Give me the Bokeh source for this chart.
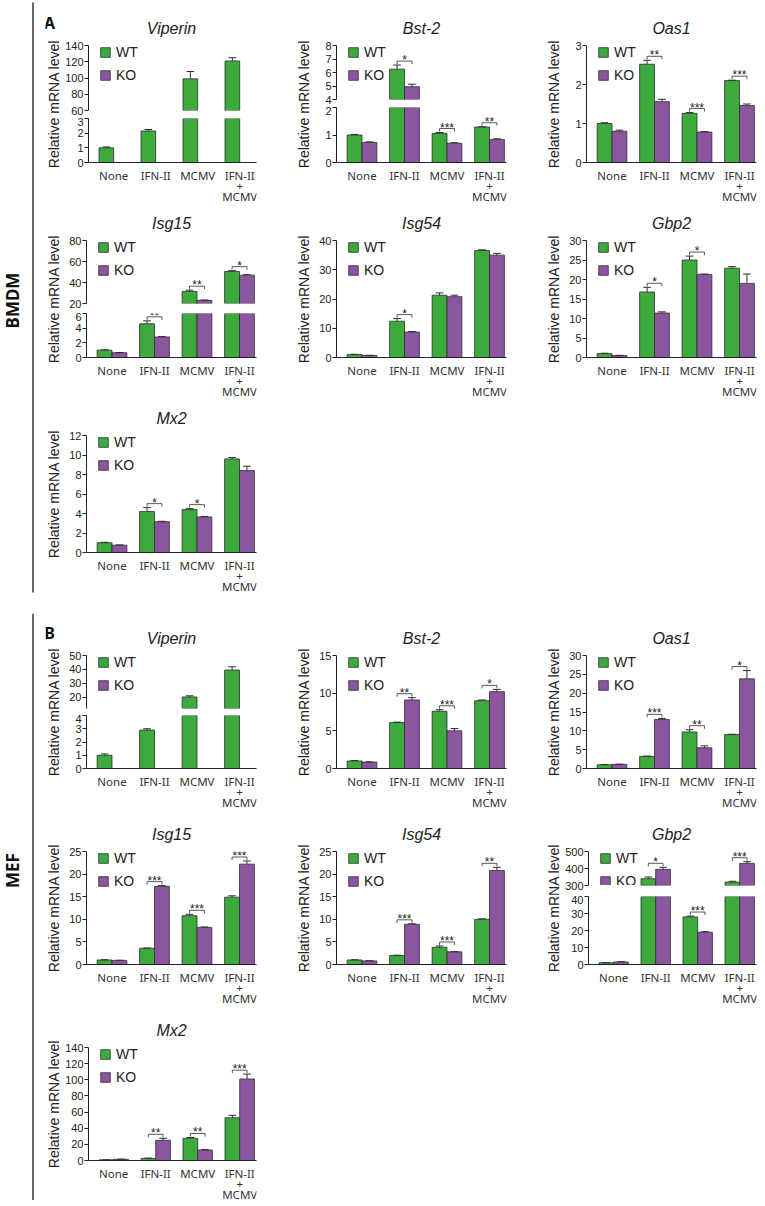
import math
from bokeh.plotting import figure
from bokeh.models import Range1d, FixedTicker, Legend, LegendItem, ColumnDataSource, Spacer
from bokeh.layouts import row, column
from bokeh.transform import dodge
from bokeh.core.properties import value
from bokeh.embed import file_html
from bokeh.resources import INLINE

NAN = float("nan")

# ---------------- data ----------------
conditions = ["None", "IFN-II", "MCMV", "IFN-II\n+\nMCMV"]
series_names = ["WT", "KO"]
cell_types = ["BMDM", "MEF"]
genes_A = ["Viperin", "Bst-2", "Oas1", "Isg15", "Isg54", "Gbp2", "Mx2"]
genes_B = ["Viperin", "Bst-2", "Oas1", "Isg15", "Isg54", "Gbp2", "Mx2"]

# BMDM
bmdm_viperin_wt = [1.0, 2.15, 99.0, 121.0]
bmdm_viperin_wt_err = [0.06, 0.1, 9.0, 4.0]
bmdm_viperin_ko = [NAN, NAN, NAN, NAN]
bmdm_viperin_ko_err = [NAN, NAN, NAN, NAN]
bmdm_viperin_sig = ["", "", "", ""]

bmdm_bst2_wt = [1.0, 6.25, 1.06, 1.29]
bmdm_bst2_wt_err = [0.02, 0.3, 0.03, 0.01]
bmdm_bst2_ko = [0.73, 4.95, 0.70, 0.84]
bmdm_bst2_ko_err = [0.02, 0.18, 0.02, 0.02]
bmdm_bst2_sig = ["", "*", "***", "**"]

bmdm_oas1_wt = [1.0, 2.52, 1.26, 2.10]
bmdm_oas1_wt_err = [0.02, 0.1, 0.02, 0.01]
bmdm_oas1_ko = [0.80, 1.56, 0.78, 1.46]
bmdm_oas1_ko_err = [0.03, 0.06, 0.01, 0.04]
bmdm_oas1_sig = ["", "**", "***", "***"]

bmdm_isg15_wt = [1.0, 4.6, 31.5, 50.5]
bmdm_isg15_wt_err = [0.05, 0.4, 1.2, 0.8]
bmdm_isg15_ko = [0.65, 2.8, 23.0, 47.0]
bmdm_isg15_ko_err = [0.03, 0.05, 0.3, 0.4]
bmdm_isg15_sig = ["", "**", "**", "*"]

bmdm_isg54_wt = [1.0, 12.4, 21.3, 36.6]
bmdm_isg54_wt_err = [0.1, 0.9, 0.8, 0.2]
bmdm_isg54_ko = [0.7, 8.7, 20.8, 35.0]
bmdm_isg54_ko_err = [0.05, 0.2, 0.5, 0.6]
bmdm_isg54_sig = ["", "*", "", ""]

bmdm_gbp2_wt = [1.0, 16.8, 25.0, 22.9]
bmdm_gbp2_wt_err = [0.1, 1.2, 1.0, 0.4]
bmdm_gbp2_ko = [0.5, 11.4, 21.3, 19.0]
bmdm_gbp2_ko_err = [0.05, 0.3, 0.1, 2.4]
bmdm_gbp2_sig = ["", "*", "*", ""]

bmdm_mx2_wt = [1.0, 4.2, 4.4, 9.6]
bmdm_mx2_wt_err = [0.05, 0.4, 0.1, 0.15]
bmdm_mx2_ko = [0.75, 3.15, 3.65, 8.4]
bmdm_mx2_ko_err = [0.03, 0.05, 0.05, 0.45]
bmdm_mx2_sig = ["", "*", "*", ""]

# MEF
mef_viperin_wt = [1.0, 2.9, 20.3, 39.6]
mef_viperin_wt_err = [0.1, 0.1, 0.8, 2.3]
mef_viperin_ko = [NAN, NAN, NAN, NAN]
mef_viperin_ko_err = [NAN, NAN, NAN, NAN]
mef_viperin_sig = ["", "", "", ""]

mef_bst2_wt = [1.0, 6.1, 7.6, 9.0]
mef_bst2_wt_err = [0.05, 0.05, 0.2, 0.1]
mef_bst2_ko = [0.85, 9.1, 5.0, 10.2]
mef_bst2_ko_err = [0.03, 0.3, 0.3, 0.3]
mef_bst2_sig = ["", "**", "***", "*"]

mef_oas1_wt = [1.0, 3.2, 9.7, 9.0]
mef_oas1_wt_err = [0.05, 0.1, 0.6, 0.1]
mef_oas1_ko = [1.1, 13.0, 5.5, 23.8]
mef_oas1_ko_err = [0.05, 0.3, 0.5, 2.2]
mef_oas1_sig = ["", "***", "**", "*"]

mef_isg15_wt = [1.0, 3.6, 10.8, 14.9]
mef_isg15_wt_err = [0.05, 0.05, 0.3, 0.3]
mef_isg15_ko = [0.9, 17.3, 8.2, 22.2]
mef_isg15_ko_err = [0.05, 0.15, 0.1, 0.7]
mef_isg15_sig = ["", "***", "***", "***"]

mef_isg54_wt = [1.0, 2.0, 3.8, 10.0]
mef_isg54_wt_err = [0.05, 0.05, 0.3, 0.1]
mef_isg54_ko = [0.8, 8.9, 2.8, 20.8]
mef_isg54_ko_err = [0.05, 0.1, 0.05, 0.7]
mef_isg54_sig = ["", "***", "***", "**"]

mef_gbp2_wt = [1.0, 340.0, 28.0, 320.0]
mef_gbp2_wt_err = [0.1, 10.0, 0.5, 5.0]
mef_gbp2_ko = [1.5, 395.0, 19.0, 430.0]
mef_gbp2_ko_err = [0.2, 12.0, 0.3, 10.0]
mef_gbp2_sig = ["", "*", "***", "***"]

mef_mx2_wt = [0.8, 2.5, 27.5, 53.0]
mef_mx2_wt_err = [0.1, 0.5, 1.0, 3.0]
mef_mx2_ko = [1.5, 25.0, 13.0, 101.0]
mef_mx2_ko_err = [0.2, 2.5, 0.5, 6.0]
mef_mx2_sig = ["", "**", "**", "***"]

# axis specs: (start, end, ticks, frame px height)
axes_A = {
    "Viperin": dict(top=(60, 140, [60, 80, 100, 120, 140], 65), bottom=(0, 3, [0, 1, 2, 3], 44)),
    "Bst-2": dict(top=(4, 8, [4, 5, 6, 7, 8], 54), bottom=(0, 2, [0, 1, 2], 55)),
    "Oas1": dict(single=(0, 3, [0, 1, 2, 3])),
    "Isg15": dict(top=(20, 80, [20, 40, 60, 80], 63), bottom=(0, 6, [0, 2, 4, 6], 44)),
    "Isg54": dict(single=(0, 40, [0, 10, 20, 30, 40])),
    "Gbp2": dict(single=(0, 30, [0, 5, 10, 15, 20, 25, 30])),
    "Mx2": dict(single=(0, 12, [0, 2, 4, 6, 8, 10, 12])),
}
axes_B = {
    "Viperin": dict(top=(12, 50, [20, 30, 40, 50], 53), bottom=(0, 4, [0, 1, 2, 3, 4], 53)),
    "Bst-2": dict(single=(0, 15, [0, 5, 10, 15])),
    "Oas1": dict(single=(0, 30, [0, 5, 10, 15, 20, 25, 30])),
    "Isg15": dict(single=(0, 25, [0, 5, 10, 15, 20, 25])),
    "Isg54": dict(single=(0, 25, [0, 5, 10, 15, 20, 25])),
    "Gbp2": dict(top=(300, 500, [300, 400, 500], 34), bottom=(0, 40, [0, 10, 20, 30, 40], 68)),
    "Mx2": dict(single=(0, 140, [0, 20, 40, 60, 80, 100, 120, 140])),
}

data_A = {
    "Viperin": (bmdm_viperin_wt, bmdm_viperin_wt_err, bmdm_viperin_ko, bmdm_viperin_ko_err, bmdm_viperin_sig),
    "Bst-2": (bmdm_bst2_wt, bmdm_bst2_wt_err, bmdm_bst2_ko, bmdm_bst2_ko_err, bmdm_bst2_sig),
    "Oas1": (bmdm_oas1_wt, bmdm_oas1_wt_err, bmdm_oas1_ko, bmdm_oas1_ko_err, bmdm_oas1_sig),
    "Isg15": (bmdm_isg15_wt, bmdm_isg15_wt_err, bmdm_isg15_ko, bmdm_isg15_ko_err, bmdm_isg15_sig),
    "Isg54": (bmdm_isg54_wt, bmdm_isg54_wt_err, bmdm_isg54_ko, bmdm_isg54_ko_err, bmdm_isg54_sig),
    "Gbp2": (bmdm_gbp2_wt, bmdm_gbp2_wt_err, bmdm_gbp2_ko, bmdm_gbp2_ko_err, bmdm_gbp2_sig),
    "Mx2": (bmdm_mx2_wt, bmdm_mx2_wt_err, bmdm_mx2_ko, bmdm_mx2_ko_err, bmdm_mx2_sig),
}
data_B = {
    "Viperin": (mef_viperin_wt, mef_viperin_wt_err, mef_viperin_ko, mef_viperin_ko_err, mef_viperin_sig),
    "Bst-2": (mef_bst2_wt, mef_bst2_wt_err, mef_bst2_ko, mef_bst2_ko_err, mef_bst2_sig),
    "Oas1": (mef_oas1_wt, mef_oas1_wt_err, mef_oas1_ko, mef_oas1_ko_err, mef_oas1_sig),
    "Isg15": (mef_isg15_wt, mef_isg15_wt_err, mef_isg15_ko, mef_isg15_ko_err, mef_isg15_sig),
    "Isg54": (mef_isg54_wt, mef_isg54_wt_err, mef_isg54_ko, mef_isg54_ko_err, mef_isg54_sig),
    "Gbp2": (mef_gbp2_wt, mef_gbp2_wt_err, mef_gbp2_ko, mef_gbp2_ko_err, mef_gbp2_sig),
    "Mx2": (mef_mx2_wt, mef_mx2_wt_err, mef_mx2_ko, mef_mx2_ko_err, mef_mx2_sig),
}

# ---------------- style ----------------
GREEN = "#3DAA3D"
PURPLE = "#8C55A0"
EDGE = "#2E2E2E"
INK = "#222222"
BAR_OFF = 0.175
BAR_W = 0.35
XR = (-0.6, 3.4)
FRAME_W = 170
LEFT_B = 24
TOP_B = 8
AX_B = 6
HEAD_H = 29
YL_W = 17
NUM_FONT = "Liberation Sans"


def blank_fig(w, h):
    p = figure(width=w, height=h, x_range=Range1d(0, w), y_range=Range1d(h, 0),
               min_border=0, toolbar_location=None, output_backend="svg",
               x_axis_location=None, y_axis_location=None)
    p.outline_line_color = None
    p.background_fill_color = None
    p.border_fill_color = None
    p.xgrid.visible = False
    p.ygrid.visible = False
    return p


def make_sub(width, right_b, top_b, frame_h, bot_b, yr, ticks, show_x):
    p = figure(width=width, height=top_b + frame_h + bot_b,
               x_range=Range1d(*XR), y_range=Range1d(*yr),
               toolbar_location=None, output_backend="svg",
               x_axis_location="below" if show_x else None, y_axis_location="left",
               min_border_left=LEFT_B, min_border_right=right_b,
               min_border_top=top_b, min_border_bottom=bot_b)
    p.outline_line_color = None
    p.xgrid.visible = False
    p.ygrid.visible = False
    ya = p.yaxis[0]
    ya.ticker = FixedTicker(ticks=ticks)
    ya.minor_tick_line_color = None
    ya.major_tick_in = 0
    ya.major_tick_out = 4
    ya.major_label_standoff = 1
    ya.major_label_text_font = NUM_FONT
    ya.major_label_text_font_size = "11px"
    ya.major_label_text_color = INK
    ya.axis_line_color = INK
    ya.major_tick_line_color = INK
    if show_x:
        xa = p.xaxis[0]
        xa.ticker = FixedTicker(ticks=[])
        xa.major_tick_in = 0
        xa.major_tick_out = 0
        xa.major_label_standoff = 0
        xa.minor_tick_line_color = None
        xa.axis_line_color = INK
    return p


def make_labels(sub_w, right_b, h):
    # same horizontal scale and borders as the bar figure above it
    p = figure(width=sub_w, height=h, x_range=Range1d(*XR), y_range=Range1d(h, 0),
               toolbar_location=None, output_backend="svg",
               x_axis_location=None, y_axis_location=None,
               min_border_left=LEFT_B, min_border_right=right_b,
               min_border_top=0, min_border_bottom=0)
    p.outline_line_color = None
    p.background_fill_color = None
    p.border_fill_color = None
    p.xgrid.visible = False
    p.ygrid.visible = False
    xs, ys, ts = [], [], []
    for i, c in enumerate(conditions):
        for k, line in enumerate(c.split("\n")):
            xs.append(i)
            ys.append(6.5 + 10.5 * k)
            ts.append(line)
    p.text(x=xs, y=ys, text=ts, text_align="center", text_baseline="middle",
           text_font=value("Noto Sans"), text_font_size="11.5px", text_color="#333333")
    return p


def draw_series(p, vals, errs, off, color, lo):
    idx = [i for i, v in enumerate(vals) if math.isnan(v) or v > lo]
    src = ColumnDataSource(dict(
        x=idx,
        top=[vals[i] for i in idx],
        up=[vals[i] + errs[i] for i in idx],
    ))
    r = p.vbar(x=dodge("x", off), width=BAR_W, top="top", bottom=lo, source=src,
               fill_color=color, line_color=EDGE, line_width=0.8)
    p.segment(x0=dodge("x", off), y0="top", x1=dodge("x", off), y1="up", source=src,
              line_color=EDGE, line_width=1)
    p.segment(x0=dodge("x", off - 0.09), y0="up", x1=dodge("x", off + 0.09), y1="up", source=src,
              line_color=EDGE, line_width=1)
    return r


def draw_sig(p, wt, wte, ko, koe, sig, yr, frame_h, accept):
    upx = (yr[1] - yr[0]) / frame_h
    xs, ys, tx, ty, tt = [], [], [], [], []
    for i, s in enumerate(sig):
        if not s:
            continue
        m = max(wt[i] + wte[i], ko[i] + koe[i])
        if not accept(m):
            continue
        y = m + 4 * upx
        xs.append([i - BAR_OFF, i - BAR_OFF, i + BAR_OFF, i + BAR_OFF])
        ys.append([y - 3 * upx, y, y, y - 3 * upx])
        tx.append(i)
        ty.append(y + 1 * upx)
        tt.append(s)
    if xs:
        p.multi_line(xs=xs, ys=ys, line_color=EDGE, line_width=0.8)
        p.text(x=tx, y=ty, text=tt, text_align="center", text_baseline="alphabetic",
               text_font=value(NUM_FONT), text_font_size="12px", text_color=INK)


def add_legend(p, r_wt, r_ko, frame_h):
    leg = Legend(items=[LegendItem(label=series_names[0], renderers=[r_wt]),
                        LegendItem(label=series_names[1], renderers=[r_ko])],
                 location=(11, frame_h - 38), orientation="vertical",
                 glyph_width=12, glyph_height=12, label_height=12, label_standoff=5,
                 spacing=7, padding=0, margin=0, border_line_color=None,
                 background_fill_alpha=0, label_text_font=NUM_FONT,
                 label_text_font_size="14px", label_text_color=INK)
    p.add_layout(leg)


def build_panel(gene, data, spec, col, frame_h, bot_b, letter=None):
    wt, wte, ko, koe, sig = data
    sub_w = LEFT_B + FRAME_W + (39 if col < 2 else 8)
    right_b = sub_w - LEFT_B - FRAME_W
    if "top" in spec:
        tlo, thi, tticks, th = spec["top"]
        blo, bhi, bticks, bh = spec["bottom"]
        gap = frame_h - th - bh
        g1 = gap - 1
        g2 = gap - g1
        pt = make_sub(sub_w, right_b, TOP_B, th, g1, (tlo, thi), tticks, False)
        pb = make_sub(sub_w, right_b, g2, bh, AX_B, (blo, bhi), bticks, True)
        rw = draw_series(pt, wt, wte, -BAR_OFF, GREEN, tlo)
        rk = draw_series(pt, ko, koe, BAR_OFF, PURPLE, tlo)
        draw_series(pb, wt, wte, -BAR_OFF, GREEN, blo)
        draw_series(pb, ko, koe, BAR_OFF, PURPLE, blo)
        draw_sig(pt, wt, wte, ko, koe, sig, (tlo, thi), th, lambda m: m >= tlo)
        draw_sig(pb, wt, wte, ko, koe, sig, (blo, bhi), bh, lambda m: m < tlo)
        add_legend(pt, rw, rk, th)
        subs = [pt, pb]
    else:
        lo, hi, ticks = spec["single"]
        p = make_sub(sub_w, right_b, TOP_B, frame_h, AX_B, (lo, hi), ticks, True)
        rw = draw_series(p, wt, wte, -BAR_OFF, GREEN, lo)
        rk = draw_series(p, ko, koe, BAR_OFF, PURPLE, lo)
        draw_sig(p, wt, wte, ko, koe, sig, (lo, hi), frame_h, lambda m: True)
        add_legend(p, rw, rk, frame_h)
        subs = [p]
    subs.append(make_labels(sub_w, right_b, bot_b - AX_B))

    total_h = HEAD_H + TOP_B + frame_h + bot_b
    head = blank_fig(YL_W + sub_w, HEAD_H)
    head.text(x=[YL_W + LEFT_B + FRAME_W / 2], y=[19.5], text=[gene],
              text_align="center", text_baseline="middle", text_font=value(NUM_FONT),
              text_font_style="italic", text_font_size="16px", text_color=INK)
    if letter:
        head.text(x=[4], y=[14], text=[letter], text_align="center", text_baseline="middle",
                  text_font=value("Noto Sans"), text_font_style="bold", text_font_size="16px",
                  text_color="#111111")
    ystrip = blank_fig(YL_W, total_h - HEAD_H)
    ystrip.text(x=[8.5], y=[TOP_B + frame_h / 2], text=["Relative mRNA level"], angle=math.pi / 2,
                text_align="center", text_baseline="middle", text_font=value(NUM_FONT),
                text_font_size="14px", text_color=INK)
    return column(head, row(ystrip, column(*subs)))


def section_strip(label, label_y, h, line_from, line_to):
    p = blank_fig(45, h)
    p.segment(x0=[32.5], y0=[line_from], x1=[32.5], y1=[line_to], line_color="#333333", line_width=1.5)
    p.text(x=[12], y=[label_y], text=[label], angle=math.pi / 2, text_align="center",
           text_baseline="middle", text_font=value("Noto Sans"), text_font_style="bold",
           text_font_size="17px", text_color="#111111")
    return p


def build_section(genes, data, axes, letter, frame_h, bot_bs):
    rows_layout = []
    for r in range(3):
        panels = []
        for c in range(3):
            k = r * 3 + c
            if k >= len(genes):
                break
            g = genes[k]
            panels.append(build_panel(g, data[g], axes[g], c, frame_h, bot_bs[r],
                                      letter if k == 0 else None))
        rows_layout.append(row(*panels))
    return column(*rows_layout)


gridA = build_section(genes_A, data_A, axes_A, "A", 117, [41, 41, 41])
gridB = build_section(genes_B, data_B, axes_B, "B", 113, [46, 46, 40])

secA = row(section_strip(cell_types[0], 300, 593, 2, 592), column(Spacer(width=10, height=8), gridA))
secB = row(section_strip(cell_types[1], 257, 587, 0, 587), column(Spacer(width=10, height=5), gridB))

layout = column(secA, Spacer(width=10, height=20), secB)

open("out.html", "w").write(file_html(layout, INLINE))
